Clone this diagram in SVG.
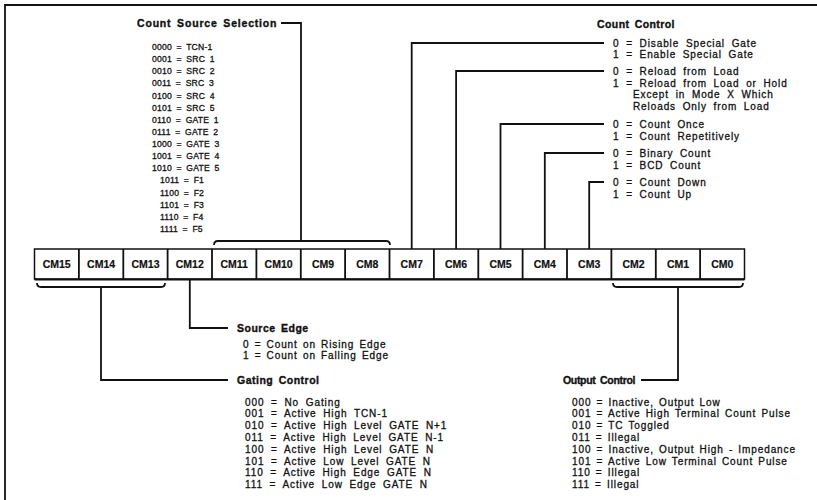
<svg xmlns="http://www.w3.org/2000/svg" width="817" height="500" viewBox="0 0 817 500">
<style>
text{font-family:"Liberation Sans",Arial,sans-serif;fill:#111}
.h{font-weight:bold;font-size:10.5px;letter-spacing:0.5px;word-spacing:2px;stroke:#111;stroke-width:0.35}
.t{font-size:10px;letter-spacing:0.9px;word-spacing:1.5px;stroke:#111;stroke-width:0.3}
.w{word-spacing:3px}
.s{font-size:8.6px;letter-spacing:0.2px;word-spacing:2px;stroke:#111;stroke-width:0.3}
.r{font-weight:bold;font-size:10.5px;text-anchor:middle;stroke:#111;stroke-width:0.2}
.ln{fill:none;stroke:#111;stroke-width:1.8}
.cell{fill:#fff;stroke:#111;stroke-width:1.5}
</style>
<rect width="817" height="500" fill="#fff"/>
<g id="frame"><path class="ln" d="M5 500 V5 H817" stroke-width="1.5"/></g>

<g id="register">
<rect class="cell" x="34.5" y="249" width="710" height="30"/>
<path class="ln" d="M34.5 279.5 H744.5" stroke-width="2.5"/>
<path class="ln" d="M78.9 249V279M123.3 249V279M167.6 249V279M212 249V279M256.4 249V279M300.8 249V279M345.1 249V279M389.5 249V279M433.9 249V279M478.3 249V279M522.6 249V279M567 249V279M611.4 249V279M655.8 249V279M700.1 249V279" stroke-width="1.3"/>
<text class="r" x="56.7" y="268">CM15</text>
<text class="r" x="101.1" y="268">CM14</text>
<text class="r" x="145.5" y="268">CM13</text>
<text class="r" x="189.8" y="268">CM12</text>
<text class="r" x="234.2" y="268">CM11</text>
<text class="r" x="278.6" y="268">CM10</text>
<text class="r" x="323" y="268">CM9</text>
<text class="r" x="367.3" y="268">CM8</text>
<text class="r" x="411.7" y="268">CM7</text>
<text class="r" x="456.1" y="268">CM6</text>
<text class="r" x="500.5" y="268">CM5</text>
<text class="r" x="544.8" y="268">CM4</text>
<text class="r" x="589.2" y="268">CM3</text>
<text class="r" x="633.6" y="268">CM2</text>
<text class="r" x="678" y="268">CM1</text>
<text class="r" x="722.3" y="268">CM0</text>
</g>

<g id="connectors">
<path class="ln" d="M214 245 Q214 241 218 241 H386 Q390 241 390 245"/>
<path class="ln" d="M301 241 V23 H281"/>
<path class="ln" d="M37 283 Q37 287 41 287 H161 Q165 287 165 283"/>
<path class="ln" d="M101 287 V380 H228"/>
<path class="ln" d="M189.8 279 V328 H228"/>
<path class="ln" d="M613 283 Q613 287 617 287 H739 Q743 287 743 283"/>
<path class="ln" d="M678 287 V380 H641"/>
<path class="ln" d="M411.7 249 V43 H604"/>
<path class="ln" d="M456.1 249 V71 H604"/>
<path class="ln" d="M500.5 249 V124 H604"/>
<path class="ln" d="M544.8 249 V153 H604"/>
<path class="ln" d="M589.2 249 V182 H604"/>
</g>

<g id="count-source-selection">
<text class="h" x="137" y="27" textLength="140" lengthAdjust="spacing">Count Source Selection</text>
<text class="s" x="152" y="50">0000 = TCN-1</text>
<text class="s" x="152" y="62.1">0001 = SRC 1</text>
<text class="s" x="152" y="74.3">0010 = SRC 2</text>
<text class="s" x="152" y="86.4">0011 = SRC 3</text>
<text class="s" x="152" y="98.5">0100 = SRC 4</text>
<text class="s" x="152" y="110.7">0101 = SRC 5</text>
<text class="s" x="152" y="122.8">0110 = GATE 1</text>
<text class="s" x="152" y="134.9">0111 = GATE 2</text>
<text class="s" x="152" y="147">1000 = GATE 3</text>
<text class="s" x="152" y="159.2">1001 = GATE 4</text>
<text class="s" x="152" y="171.3">1010 = GATE 5</text>
<text class="s" x="160" y="183.4">1011 = F1</text>
<text class="s" x="160" y="195.6">1100 = F2</text>
<text class="s" x="160" y="207.7">1101 = F3</text>
<text class="s" x="160" y="219.8">1110 = F4</text>
<text class="s" x="160" y="232">1111 = F5</text>
</g>

<g id="count-control">
<text class="h" x="597" y="28" textLength="78" lengthAdjust="spacing">Count Control</text>
<text class="t w" x="613" y="46.5">0 = Disable Special Gate</text>
<text class="t w" x="613" y="58">1 = Enable Special Gate</text>
<text class="t w" x="613" y="74.5">0 = Reload from Load</text>
<text class="t w" x="613" y="86.5">1 = Reload from Load or Hold</text>
<text class="t w" x="633" y="97.5">Except in Mode X Which</text>
<text class="t w" x="633" y="109.5">Reloads Only from Load</text>
<text class="t w" x="613" y="127.5">0 = Count Once</text>
<text class="t w" x="613" y="139.5">1 = Count Repetitively</text>
<text class="t w" x="613" y="156.5">0 = Binary Count</text>
<text class="t w" x="613" y="168.5">1 = BCD Count</text>
<text class="t w" x="613" y="185.5">0 = Count Down</text>
<text class="t w" x="613" y="197.5">1 = Count Up</text>
</g>

<g id="source-edge">
<text class="h" x="237" y="332">Source Edge</text>
<text class="t" x="243" y="347.5">0 = Count on Rising Edge</text>
<text class="t" x="243" y="359">1 = Count on Falling Edge</text>
</g>

<g id="gating-control">
<text class="h" x="237" y="383.5">Gating Control</text>
<text class="t w" x="245" y="405.5">000 = No Gating</text>
<text class="t w" x="245" y="417.3">001 = Active High TCN-1</text>
<text class="t w" x="245" y="429.1">010 = Active High Level GATE N+1</text>
<text class="t w" x="245" y="440.9">011 = Active High Level GATE N-1</text>
<text class="t w" x="245" y="452.7">100 = Active High Level GATE N</text>
<text class="t w" x="245" y="464.5">101 = Active Low Level GATE N</text>
<text class="t w" x="245" y="476.3">110 = Active High Edge GATE N</text>
<text class="t w" x="245" y="488.1">111 = Active Low Edge GATE N</text>
</g>

<g id="output-control">
<text class="h" x="563" y="383.5" textLength="73" lengthAdjust="spacing">Output Control</text>
<text class="t" x="572" y="405.5">000 = Inactive, Output Low</text>
<text class="t" x="572" y="417.3">001 = Active High Terminal Count Pulse</text>
<text class="t" x="572" y="429.1">010 = TC Toggled</text>
<text class="t" x="572" y="440.9">011 = Illegal</text>
<text class="t" x="572" y="452.7">100 = Inactive, Output High - Impedance</text>
<text class="t" x="572" y="464.5">101 = Active Low Terminal Count Pulse</text>
<text class="t" x="572" y="476.3">110 = Illegal</text>
<text class="t" x="572" y="488.1">111 = Illegal</text>
</g>
</svg>
